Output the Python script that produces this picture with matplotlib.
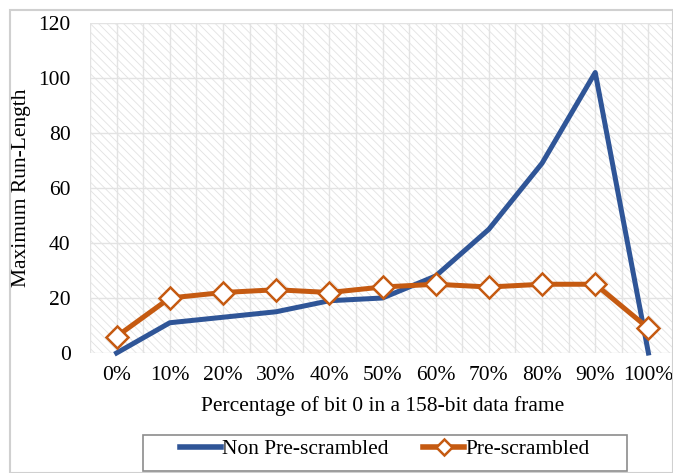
import matplotlib.pyplot as plt
from matplotlib.patches import Rectangle

# Dati
categories = ['0%', '10%', '20%', '30%', '40%', '50%', '60%', '70%', '80%', '90%', '100%']
non_prescrambled = [0, 11, 13, 15, 19, 20, 28, 45, 69, 102, 0]
prescrambled = [6, 20, 22, 23, 22, 24, 25, 24, 25, 25, 9]
y_ticks = [0, 20, 40, 60, 80, 100, 120]

plt.rcParams['font.family'] = ['Liberation Serif', 'DejaVu Serif']
plt.rcParams['font.size'] = 15.5
plt.rcParams['hatch.linewidth'] = 0.6

W, H = 673, 473
fig = plt.figure(figsize=(W / 100, H / 100), dpi=100)
ax = fig.add_axes([90 / W, 1 - 353 / H, 585 / W, 330 / H])

# Bordo del grafico
border = Rectangle((10 / W, 0.0), 1 - 10 / W, 1 - 10 / H, transform=fig.transFigure,
                   fill=False, edgecolor='#d0d0d0', linewidth=1.5)
fig.add_artist(border)

# Sfondo tratteggiato
ax.add_patch(Rectangle((0, 0), 1, 1, transform=ax.transAxes, facecolor='white',
                       edgecolor='#e2e2e2', hatch='\\\\\\\\', linewidth=0, zorder=0))

x = list(range(len(categories)))
ax.plot(x, non_prescrambled, color='#2f5597', linewidth=3.6, label='Non Pre-scrambled',
        solid_joinstyle='round', zorder=3, clip_on=False)
ax.plot(x, prescrambled, color='#c55a11', linewidth=3.6, marker='D', markersize=11,
        markerfacecolor='white', markeredgecolor='#c55a11', markeredgewidth=1.8,
        label='Pre-scrambled', zorder=4, clip_on=False)

ax.set_xlim(-0.5, 10.5)
ax.set_ylim(0, 120)
ax.set_yticks(y_ticks)
ax.set_xticks(x)
ax.set_xticklabels(categories)
ax.set_xticks([i + 0.5 for i in range(-1, 11)], minor=True)
ax.tick_params(axis='both', length=0, which='both')
ax.tick_params(axis='y', pad=14)
ax.tick_params(axis='x', pad=9)
ax.grid(True, which='both', color='#e3e3e3', linewidth=1)
ax.set_axisbelow(True)
for s in ax.spines.values():
    s.set_visible(False)

ax.set_ylabel('Maximum Run-Length', labelpad=5)
ax.set_xlabel('Percentage of bit 0 in a 158-bit data frame', labelpad=8)

leg = fig.legend(loc='lower center', bbox_to_anchor=(385 / W, 1 - 468 / H), ncol=2,
                 frameon=False, handlelength=1.9, handletextpad=0.05, columnspacing=1.6,
                 borderaxespad=0)
fig.add_artist(Rectangle((143 / W, 1 - 471 / H), 484 / W, 36 / H, transform=fig.transFigure,
                         fill=False, edgecolor='#8c8c8c', linewidth=1.2))
for h in leg.legend_handles:
    h.set_linewidth(4)
    if h.get_marker() == 'D':
        h.set_markersize(8)

fig.savefig('out.png', dpi=100)
